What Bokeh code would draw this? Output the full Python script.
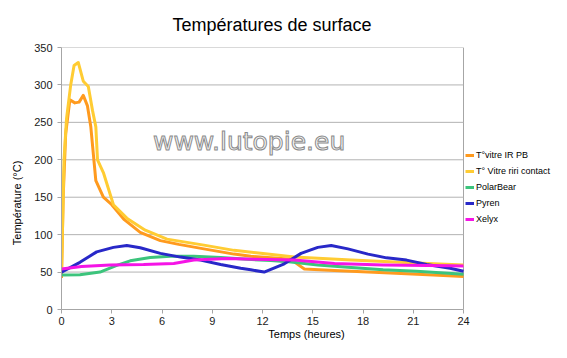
from bokeh.plotting import figure
from bokeh.models import Range1d, FixedTicker, Legend, LegendItem, Label, Span
from bokeh.embed import file_html
from bokeh.resources import INLINE

# ---- data ----
series_names = ["T°vitre IR PB", "T° Vitre riri contact", "PolarBear", "Pyren", "Xelyx"]
series_colors = ["#ff9a1e", "#ffcc33", "#3cc47c", "#2828c8", "#f514e6"]

t_ir = [0, 0.1, 0.25, 0.5, 0.8, 1.05, 1.3, 1.55, 1.75, 1.95, 2.05, 2.5, 3.0, 3.45, 3.75, 4.7, 5.9, 7.0, 8.5, 10.3, 11.3, 12.5, 13.7, 14.0, 14.5, 16.3, 19.3, 22.2, 24]
v_ir = [42, 150, 235, 280, 276, 277, 286, 272, 244, 196, 172, 150, 140, 128, 120, 103, 92, 87, 81, 74, 71, 69, 67, 62, 54, 52, 49, 46, 44]

t_ri = [0, 0.15, 0.3, 0.55, 0.75, 1.0, 1.3, 1.6, 1.85, 2.05, 2.15, 2.5, 3.1, 3.9, 5.0, 6.3, 8.5, 10.3, 11.9, 13.9, 17.3, 21.2, 24]
v_ri = [48, 200, 255, 300, 326, 330, 305, 298, 266, 244, 200, 183, 140, 122, 106, 94, 86, 79, 75, 70, 66, 62, 59.5]

t_pb = [0, 1.1, 2.3, 3.3, 4.1, 5.3, 6.5, 7.9, 9.5, 11.1, 12.5, 13.7, 15.3, 17.3, 19.2, 21.2, 24]
v_pb = [46, 46.5, 50, 59, 65, 69.5, 71, 71, 69.5, 67, 65.5, 63.5, 59.5, 56, 53, 51, 47]

t_py = [0, 1.1, 2.1, 3.1, 3.9, 4.7, 5.9, 7.1, 8.3, 9.5, 10.7, 11.3, 12.1, 13.3, 14.3, 15.3, 16.1, 17.1, 18.3, 19.4, 20.6, 21.8, 23.2, 24]
v_py = [50, 63, 77, 83, 85.5, 82.5, 75, 70, 66, 60, 55, 53, 50, 61, 75, 83, 85.5, 81, 74, 69, 66, 60, 55, 51]

t_xe = [0, 1.2, 2.9, 4.9, 6.7, 7.9, 9.9, 11.5, 13.9, 16.3, 19.2, 23.2, 24]
v_xe = [54, 57.5, 59.5, 60, 61.5, 66, 68, 67, 66, 61.5, 59.5, 58.5, 58]

x_ticks = [0, 3, 6, 9, 12, 15, 18, 21, 24]
y_ticks = [0, 50, 100, 150, 200, 250, 300, 350]
X_MAX, Y_MAX = 24, 350

FONT = "Liberation Sans"

W, H = 551, 342
LEFT, TOP, BOTTOM = 61, 46, 33
PLOT_W = 402                       # width of the 0..24 h area in pixels
# the frame continues to the right edge so that the legend is not clipped
x_end = X_MAX * (W - LEFT) / PLOT_W

p = figure(width=W, height=H, output_backend="svg", toolbar_location=None,
           x_range=Range1d(0, x_end), y_range=Range1d(0, Y_MAX),
           min_border_left=LEFT, min_border_right=0, min_border_top=TOP, min_border_bottom=BOTTOM,
           background_fill_color="white", border_fill_color="white")

p.title.text = "Températures de surface"
p.title.text_font = FONT
p.title.text_font_size = "18px"
p.title.text_font_style = "normal"
p.title.text_color = "#000000"
p.title.align = "left"
p.title.offset = 111
p.title.standoff = 25

p.outline_line_color = None
p.xgrid.grid_line_color = None
p.ygrid.grid_line_color = None

# horizontal grid lines limited to the 0..24 h plot area, and its right border
p.segment(x0=0, x1=X_MAX, y0=y_ticks, y1=y_ticks, line_color="#b3b3b3", line_width=1)
border = Span(location=X_MAX, dimension="height", line_color="#a6a6a6", line_width=1, level="underlay")
p.add_layout(border)

for ax in (p.xaxis[0], p.yaxis[0]):
    ax.axis_line_color = "#a6a6a6"
    ax.major_tick_line_color = "#a6a6a6"
    ax.minor_tick_line_color = None
    ax.major_tick_in = 0
    ax.major_tick_out = 4
    ax.major_label_text_font = FONT
    ax.major_label_text_font_size = "11px"
    ax.major_label_text_color = "#1a1a1a"
    ax.axis_label_text_font = FONT
    ax.axis_label_text_font_size = "11px"
    ax.axis_label_text_font_style = "normal"
    ax.axis_label_text_color = "#000000"

p.xaxis[0].ticker = FixedTicker(ticks=x_ticks)
p.xaxis[0].bounds = (0, X_MAX)
p.yaxis[0].ticker = FixedTicker(ticks=y_ticks)
p.xaxis[0].axis_label = "Temps (heures)"
p.xaxis[0].major_label_standoff = 3
p.xaxis[0].axis_label_standoff = 0
p.yaxis[0].major_label_standoff = 5
# trailing no-break spaces push the rotated title a little lower, as in the original
p.yaxis[0].axis_label = "Température (°C)" + "\u00a0" * 16
p.yaxis[0].axis_label_standoff = 8

# watermark
wm = Label(x=11.2, y=224, text="www.lutopie.eu", text_align="center", text_baseline="middle",
           text_font="DejaVu Sans", text_font_size="25px", text_color="#f7f7f7",
           text_outline_color="#8a8a8a")
p.add_layout(wm)

all_t = [t_ir, t_ri, t_pb, t_py, t_xe]
all_v = [v_ir, v_ri, v_pb, v_py, v_xe]
items = []
for name, col, t, v in zip(series_names, series_colors, all_t, all_v):
    r = p.line(t, v, line_color=col, line_width=3, line_join="round")
    items.append(LegendItem(label=name, renderers=[r]))

legend = Legend(items=items, location=(404, 84), orientation="vertical",
                background_fill_alpha=0, border_line_alpha=0, padding=0, margin=0,
                spacing=4, glyph_width=9, glyph_height=12, label_height=12,
                label_standoff=2, label_text_font=FONT, label_text_font_size="9px",
                label_text_color="#000000")
p.add_layout(legend)

open("out.html", "w").write(file_html(p, INLINE))
